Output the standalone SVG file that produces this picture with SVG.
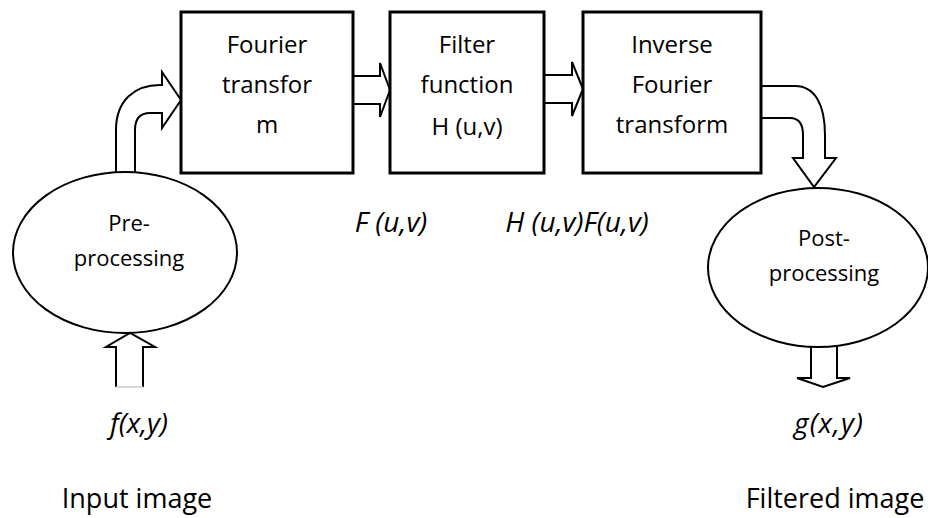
<svg xmlns="http://www.w3.org/2000/svg" width="928" height="518" viewBox="0 0 928 518">
<style>
.box{fill:#fff;stroke:#000;stroke-width:3}
.ell{fill:#fff;stroke:#000;stroke-width:2}
.arr{fill:#fff;stroke:#000;stroke-width:2;stroke-linejoin:miter}
.t{font-family:"Open Sans","Liberation Sans",sans-serif;font-size:24px;fill:#000;text-anchor:middle}
.s{font-size:22px}
.i{font-style:italic;font-size:28px}
.b{font-size:27px}
</style>
<rect width="928" height="518" fill="#fff"/>
<g id="connectors">
<path class="arr" d="M116,180 L116,130 C116,100 135,85 160,85 L162,85 L162,72 L181,100 L162,128 L162,113 L150,113 C140,113 135,118 135,130 L135,180"/>
<path class="arr" d="M116,387 L116,347 L106,347 L130,333 L155,347 L143,347 L143,387"/>
<line x1="116" y1="387" x2="143" y2="387" stroke="#ccc" stroke-width="1.5"/>
<path class="arr" d="M353,76 L380,76 L380,63 L390,90 L380,117 L380,104 L353,104"/>
<path class="arr" d="M544,75 L572,75 L572,62 L583,89 L572,116 L572,103 L544,103"/>
<path class="arr" d="M761,86 L795,86 C815,86 825,105 825,135 L825,158 L836,158 L814,187 L793,158 L803,158 L803,135 C803,124 799,118 790,118 L761,118"/>
<path class="arr" d="M811,340 L811,378 L797,378 L823,387 L850,378 L837,378 L837,340"/>
</g>
<g id="fourier">
<rect class="box" x="181" y="12" width="172" height="161"/>
<text class="t" x="267" y="53">Fourier</text>
<text class="t" x="267" y="93">transfor</text>
<text class="t" x="267" y="133">m</text>
</g>
<g id="filter">
<rect class="box" x="390" y="12" width="154" height="161"/>
<text class="t" x="467" y="53">Filter</text>
<text class="t" x="467" y="93">function</text>
<text class="t" x="467" y="135">H (u,v)</text>
</g>
<g id="inverse">
<rect class="box" x="583" y="12" width="178" height="161"/>
<text class="t" x="672" y="53">Inverse</text>
<text class="t" x="672" y="93">Fourier</text>
<text class="t" x="672" y="133">transform</text>
</g>
<g id="pre">
<ellipse class="ell" cx="125" cy="252.5" rx="112" ry="80.5"/>
<text class="t s" x="129" y="231">Pre-</text>
<text class="t s" x="129" y="266">processing</text>
</g>
<g id="post">
<ellipse class="ell" cx="818" cy="267.5" rx="110" ry="79.5"/>
<text class="t s" x="824" y="246">Post-</text>
<text class="t s" x="824" y="281">processing</text>
</g>
<g id="labels">
<text class="t i" x="391" y="232">F (u,v)</text>
<text class="t i" x="577" y="232">H (u,v)F(u,v)</text>
<text class="t i" x="139" y="433">f(x,y)</text>
<text class="t i" x="829" y="433" letter-spacing="1">g(x,y)</text>
<text class="t b" x="137" y="508">Input image</text>
<text class="t b" x="835" y="508">Filtered image</text>
</g>
</svg>
